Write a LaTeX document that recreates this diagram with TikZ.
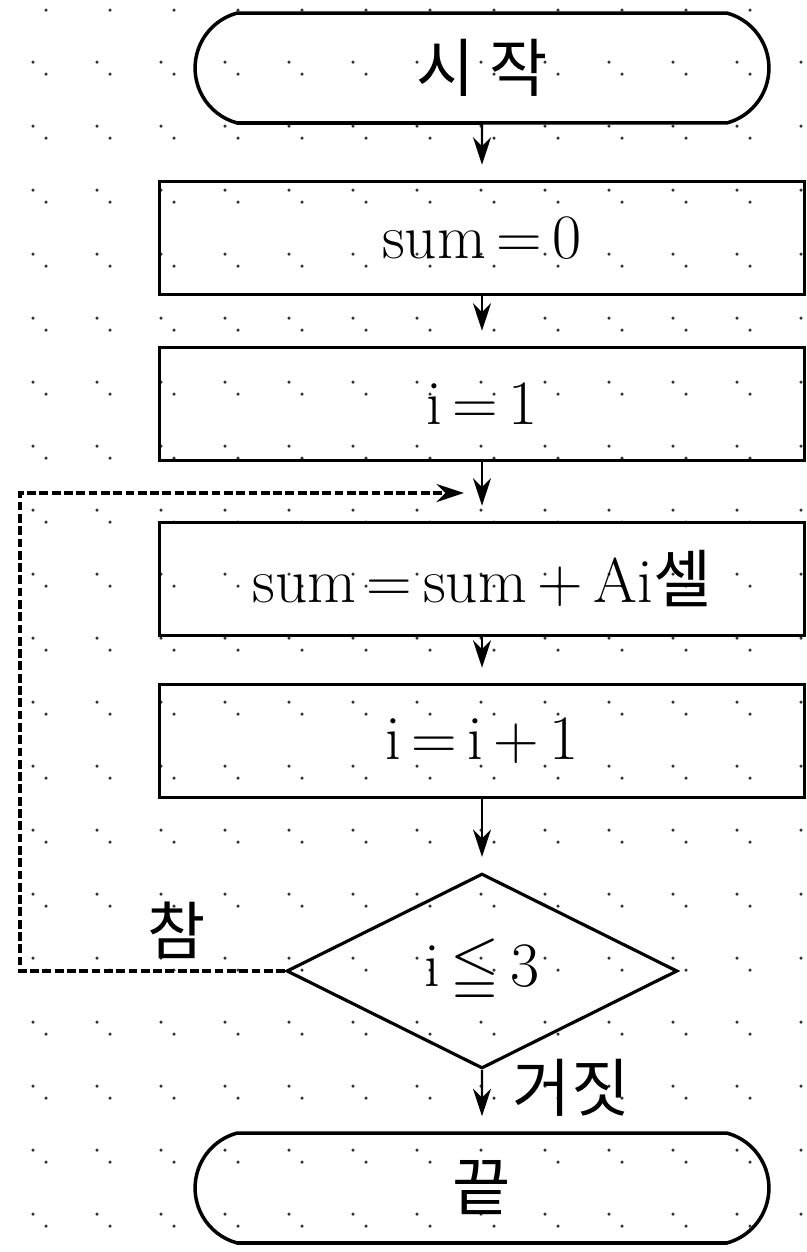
\documentclass[tikz,border=0pt]{standalone}
\usepackage{amssymb}
\usepackage{amsmath}
\usepackage{fontspec}
\newfontfamily\kor{Noto Sans CJK KR}
\usetikzlibrary{shapes.misc,shapes.geometric,arrows.meta}

\begin{document}
\begin{tikzpicture}[x=0.02cm, y=-0.02cm, >={Stealth[length=0.55cm,width=0.36cm]}]
			\tikzstyle{every node}=[font=\fontsize{36}{40}\selectfont]
			\tikzstyle{terminal}=[draw, line width=2pt, rounded rectangle, rounded rectangle arc length=150, minimum width=11.48cm, minimum height=2.2cm, inner sep=0pt]
			\tikzstyle{box}=[draw, line width=2pt, rectangle, minimum width=12.9cm, minimum height=2.26cm, inner sep=0pt]
			\tikzstyle{test}=[draw, line width=1.8pt, diamond, minimum width=7.82cm, minimum height=3.9cm, inner sep=0pt]
			\tikzstyle{flow}=[->, line width=1.3pt, shorten >=0.3cm]
			
			\useasboundingbox (0,0) rectangle (806,1252);
			
			%Punktraster
			\foreach \i in {0,...,12} \foreach \j in {0,...,19} {
				\fill[black!80] (33+64*\i,62+64*\j) circle (0.035cm);
				\fill[black!80] (46+64*\i,10+64*\j) circle (0.035cm);
			}
			
			%Ablauf
			\node[terminal] (start) at (482,68) {\kor 시 작};
			\node[box] (init) at (482,238) {sum\,=\,0};
			\node[box] (first) at (482,404) {i\,=\,1};
			\node[box] (add) at (482,579) {sum\,=\,sum\,+\,Ai{\kor 셀}};
			\node[box] (incr) at (482,741) {i\,=\,i\,+\,1};
			\node[test] (cond) at (482,971) {i\,$\leqq$\,3};
			\node[terminal] (stop) at (482,1188) {\kor 끝};
			
			\draw[flow] (start) -- (init);
			\draw[flow] (init) -- (first);
			\draw[flow] (first) -- (add);
			\draw[flow] (add) -- (incr);
			\draw[flow] (incr) -- (cond);
			\draw[flow] (cond) -- (stop);
			
			%Schleife zurueck
			\coordinate (loopend) at (464,493);
			\draw[->, dash pattern=on 5pt off 2pt, line width=2pt] (cond.west) -- ++(-265,0) |- (loopend);
			
			\node (yes) at (177,930) {\kor 참};
			\node (no) at (571,1088) {\kor 거짓};
		\end{tikzpicture}
\end{document}
